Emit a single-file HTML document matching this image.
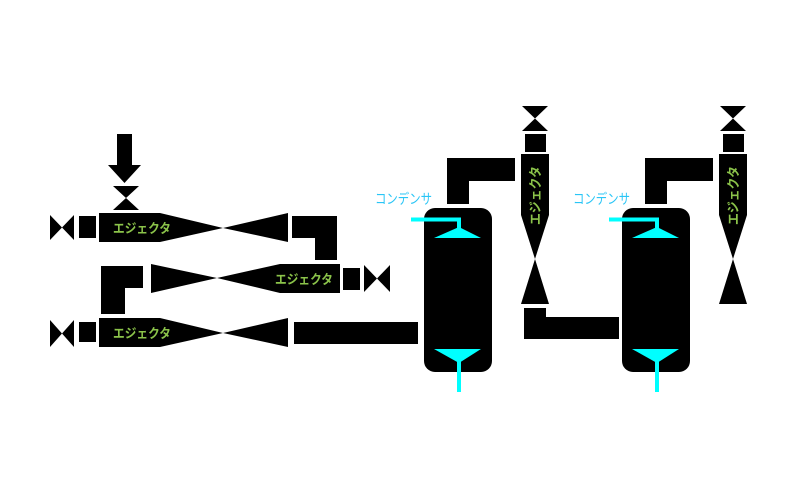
<!DOCTYPE html>
<html><head><meta charset="utf-8"><style>
html,body{margin:0;padding:0;background:#fff;width:800px;height:500px;overflow:hidden}
svg{display:block}
.t{font-family:"Liberation Sans","Noto Sans CJK JP",sans-serif;font-weight:bold;font-size:13px;fill:#8bc34a}
.c{font-family:"Liberation Sans","Noto Sans CJK JP",sans-serif;font-size:14px;fill:#29c5f6}
</style></head><body>
<svg width="800" height="500" viewBox="0 0 800 500">
<g fill="#000">
<rect x="117" y="134" width="15" height="32"/>
<polygon points="108,165 141,165 124.5,183"/>
<polygon points="113,186 139,186 126,198 139,210 113,210 126,198"/>
<polygon points="50,215 62,227.5 74,215 74,240 62,227.5 50,240"/>
<rect x="79" y="216" width="17" height="22"/>
<polygon points="99,213 160,213 223,228 288,213 288,242 223,228 160,242 99,242"/>
<polygon points="292,216 337,216 337,260 315,260 315,238 292,238"/>
<polygon points="101,266 143,266 143,288 125,288 125,314 101,314"/>
<polygon points="151,264 217,278 280,264 340,264 340,293 280,293 217,278 151,293"/>
<rect x="343" y="268" width="17" height="22"/>
<polygon points="364,265 377,278.5 390,265 390,292 377,278.5 364,292"/>
<polygon points="50,320 62,333.5 74,320 74,347 62,333.5 50,347"/>
<rect x="79" y="322" width="17" height="20"/>
<polygon points="99,318 160,318 223,333 288,318 288,347 223,333 160,347 99,347"/>
<rect x="294" y="322" width="124" height="22"/>
</g>
<text class="t" x="113" y="233" textLength="58" lengthAdjust="spacingAndGlyphs">エジェクタ</text>
<text class="t" x="275" y="284" textLength="58" lengthAdjust="spacingAndGlyphs">エジェクタ</text>
<text class="t" x="113" y="338" textLength="58" lengthAdjust="spacingAndGlyphs">エジェクタ</text>

<g id="unit">
<g fill="#000">
<polygon points="447,158 515,158 515,181 469,181 469,204 447,204"/>
<rect x="424" y="208" width="68" height="164" rx="11"/>
<polygon points="522,106 548,106 535,118.5 548,131 522,131 535,118.5"/>
<rect x="525" y="134" width="21" height="18"/>
<polygon points="521,154 549,154 549,215 535,259 549,304 521,304 535,259 521,215"/>
</g>
<text class="c" x="375" y="204" textLength="57" lengthAdjust="spacingAndGlyphs">コンデンサ</text>
<g fill="#00ffff" stroke="none">
<polyline points="411,219.5 459,219.5 459,228" fill="none" stroke="#00ffff" stroke-width="4"/>
<polygon points="459,227 481,238 434,238"/>
<polygon points="434,349 481,349 459,363"/>
<rect x="457" y="360" width="4" height="32"/>
</g>
<text class="t" transform="translate(540,225) rotate(-90)" textLength="59" lengthAdjust="spacingAndGlyphs">エジェクタ</text>
</g>
<use href="#unit" transform="translate(198,0)"/>
<g fill="#000">
<polygon points="524,308 546,308 546,317 619,317 619,339 524,339"/>
</g>
</svg>
</body></html>
